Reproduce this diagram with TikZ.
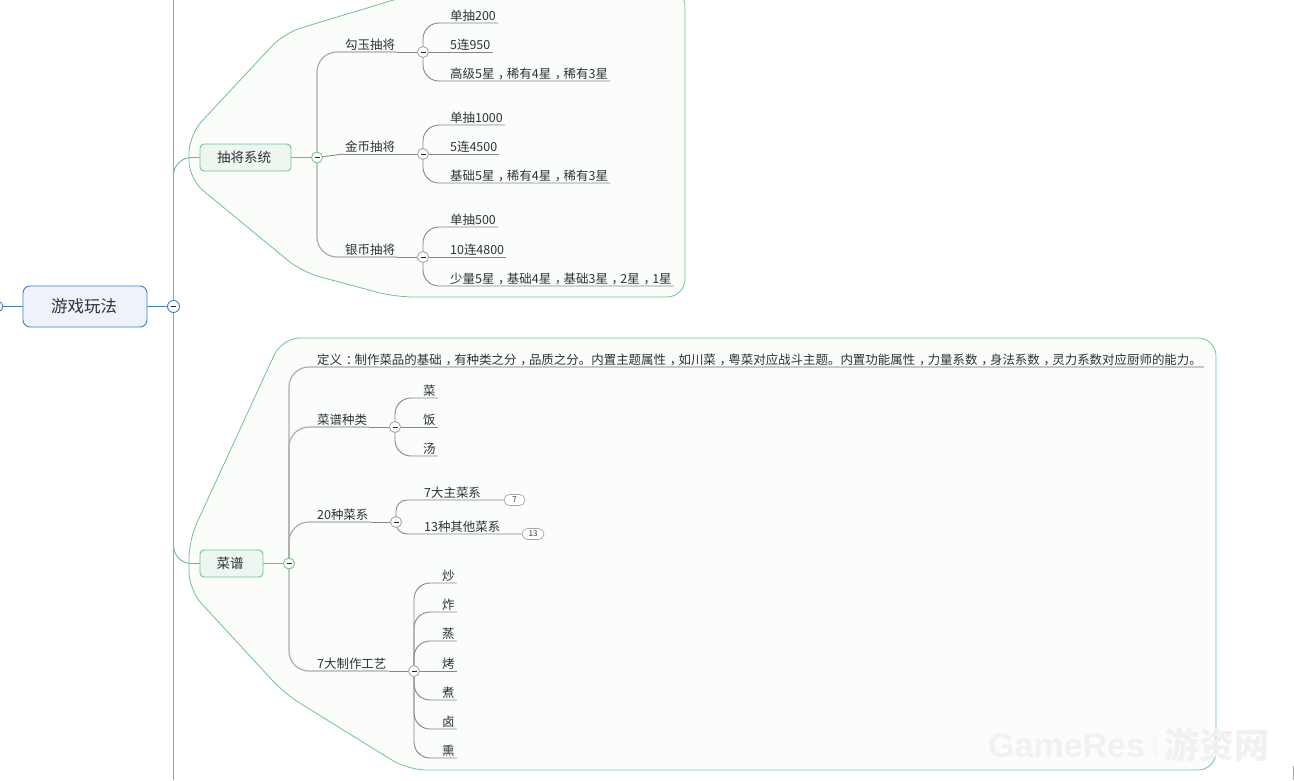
\documentclass[tikz,border=0pt]{standalone}
\usepackage{fontspec}
\setmainfont{Noto Sans CJK SC}
\newfontfamily\latinbold{Liberation Sans}
\usetikzlibrary{backgrounds}
\definecolor{rootblue}{HTML}{3F7FC4}
\definecolor{rootfill}{HTML}{EEF3FB}
\definecolor{topicgreen}{HTML}{72C290}
\definecolor{topicfill}{HTML}{EDF6F0}
\definecolor{groupfill}{HTML}{FBFDFB}
\definecolor{inktext}{HTML}{2C3335}
\newcommand{\foldmark}{\rule{5pt}{1pt}}
\newcommand{\cm}{\makebox[1em][l]{\hspace{.3em}\char"FF0C}}
\newcommand{\cl}{\makebox[1em][l]{\hspace{.3em}\char"FF1A}}
\tikzset{
  group/.style={draw=topicgreen,fill=groupfill,line width=.8pt,rounded corners=18pt},
  rootbox/.style={draw=rootblue,fill=rootfill,rounded corners=7pt,line width=.9pt,
    minimum width=124pt,minimum height=41pt,text=inktext,font=\fontsize{16.5}{18}\selectfont},
  topicbox/.style={draw=topicgreen,fill=topicfill,rounded corners=4pt,line width=.9pt,
    minimum height=27pt,text=inktext,font=\fontsize{13.5}{15}\selectfont},
  item/.style={anchor=south west,inner xsep=2pt,inner ysep=1.5pt,text height=10pt,text depth=1pt,
    text=inktext,font=\fontsize{12.46}{14}\selectfont},
  fold/.style={circle,draw=gray!70,fill=white,minimum size=11pt,inner sep=0pt,line width=.9pt,
    font=\fontsize{9}{9}\selectfont,text=black!85},
  foldgreen/.style={fold,draw=topicgreen},
  foldblue/.style={fold,draw=rootblue,minimum size=12pt},
  pill/.style={draw=gray!70,fill=white,rounded corners=5.5pt,minimum height=11pt,inner sep=0pt,
    line width=.7pt,text=inktext,font=\fontsize{8}{8}\selectfont},
  stem/.style={draw=gray!95,line width=.9pt,rounded corners=16pt},
  stemshort/.style={stem,rounded corners=11pt},
  trunk/.style={stem,draw=gray!65,line width=1.2pt,rounded corners=20pt},
  greenlink/.style={draw=topicgreen!85!gray,line width=.9pt,rounded corners=18pt},
  bluelink/.style={draw=rootblue,line width=1pt},
  stamp/.style={text=gray!11,inner sep=0pt}
}
\begin{document}
\begin{tikzpicture}[x=1pt,y=-1pt]
  \useasboundingbox (0,0) rectangle (1294,780);
  % the two boundaries
  \begin{pgfonlayer}{background}
    \begin{scope}
      \clip (0,0) rectangle (1294,780);
      \draw[group] (500,-32) -- (284,33) -- (189,135) -- (189,179) -- (302,272)
        -- (395,297) -- (685,297) -- (685,-12) -- (440,-12) -- cycle;
      \draw[group] (282,338) -- (189,540) -- (189,590) -- (285,694) -- (408,770)
        -- (1216,770) -- (1216,338) -- cycle;
    \end{scope}
  \end{pgfonlayer}

  \coordinate (top) at (173.5,0);
  \coordinate (bottom) at (173.5,780);
  \node[rootbox] (root) at (85,306.5) {\hspace*{-2pt}游戏玩法};
  \node[foldblue] (f0) at (173.5,306.5) {\foldmark};
  \node[foldblue,minimum size=10pt] (f00) at (-2,306.5) {};

  \node[topicbox,minimum width=91pt] (draw) at (245.5,157.5) {\hspace*{-3pt}抽将系统};
  \node[foldgreen] (f1) at (317,157.5) {\foldmark};
  \node[topicbox,minimum width=63pt] (recipe) at (231.5,563.5) {\hspace*{-3pt}菜谱};
  \node[foldgreen] (f2) at (289,563.5) {\foldmark};

  % draw cards
  \node[item] (d1) at (343,52) {勾玉抽将};
  \node[fold] (fd1) at (423,52) {\foldmark};
  \node[item] (d11) at (448,23) {单抽200};
  \node[item] (d12) at (448,52) {5连950};
  \node[item] (d13) at (448,81) {高级5星\cm 稀有4星\cm 稀有3星};
  \node[item] (d2) at (343,154) {金币抽将};
  \node[fold] (fd2) at (423,154) {\foldmark};
  \node[item] (d21) at (448,125) {单抽1000};
  \node[item] (d22) at (448,154) {5连4500};
  \node[item] (d23) at (448,183) {基础5星\cm 稀有4星\cm 稀有3星};
  \node[item] (d3) at (343,257) {银币抽将};
  \node[fold] (fd3) at (423,257) {\foldmark};
  \node[item] (d31) at (448,227) {单抽500};
  \node[item] (d32) at (448,257) {10连4800};
  \node[item] (d33) at (448,286) {少量5星\cm 基础4星\cm 基础3星\cm 2星\cm 1星};

  % recipes
  \node[item] (r0) at (315,367) {定义\cl 制作菜品的基础\cm 有种类之分\cm 品质之分。内置主题属性\cm 如川菜\cm 粤菜对应战斗主题。内置功能属性\cm 力量系数\cm 身法系数\cm 灵力系数对应厨师的能力。};
  \node[item] (r1) at (315,427) {菜谱种类};
  \node[fold] (fr1) at (395,427) {\foldmark};
  \node[item] (r11) at (421,398) {菜};
  \node[item] (r12) at (421,427) {饭};
  \node[item] (r13) at (421,456) {汤};
  \node[item] (r2) at (315,522) {20种菜系};
  \node[fold] (fr2) at (396,522) {\foldmark};
  \node[item] (r21) at (422,500) {7大主菜系};
  \node[pill,minimum width=21pt] (p1) at (514.5,500) {7};
  \node[item] (r22) at (422,534) {13种其他菜系};
  \node[pill,minimum width=22pt] (p2) at (533,534) {13};
  \node[item] (r3) at (315,671) {7大制作工艺};
  \node[fold] (fr3) at (414,671) {\foldmark};
  \node[item] (r31) at (440,583) {炒};
  \node[item] (r32) at (440,612) {炸};
  \node[item] (r33) at (440,641) {蒸};
  \node[item] (r34) at (440,671) {烤};
  \node[item] (r35) at (440,700) {煮};
  \node[item] (r36) at (440,729) {卤};
  \node[item] (r37) at (440,758) {熏};

  % watermark
  \node[stamp,anchor=west,font={\latinbold\bfseries\fontsize{34}{36}\selectfont}] (w1) at (988,746) {GameRes};
  \node[stamp,rotate=90,font={\latinbold\bfseries\fontsize{9}{9}\selectfont}] (w2) at (1155,746) {.com};
  \node[stamp,anchor=west,font={\bfseries\fontsize{35}{37}\selectfont}] (w3) at (1164,745) {游资网};

  \coordinate (edge1) at (1293,766);
  \coordinate (edge2) at (1293,780);
  \draw[gray!70,line width=1pt] (edge1) to (edge2);

  \begin{pgfonlayer}{background}
    \draw[bluelink] (f00) to (root);
    \draw[bluelink] (root) to (f0);
    \begin{scope}[greenlink]
      \draw (top) to (bottom);
      \draw (f0.center) |- (draw);
      \draw (f0.center) |- (recipe);
      \draw (draw) to (f1);
      \draw (recipe) to (f2);
    \end{scope}
    \begin{scope}[trunk]
      \draw (f1.center) |- (d1.south east);
      \draw (f1.center) |- (d3.south east);
      \draw (f2.center) |- (r0.south east);
      \draw (f2.center) |- (r1.south east);
      \draw (f2.center) |- (r2.south east);
      \draw (f2.center) |- (r3.south east);
    \end{scope}
    \begin{scope}[stem]
      \draw (f1) to (d2.south west);
      \draw (d2.south west) to (d2.south east);
      \draw (d1.south east) to (fd1);
      \draw (d2.south east) to (fd2);
      \draw (d3.south east) to (fd3);
      \draw (r1.south east) to (fr1);
      \draw (r2.south east) to (fr2);
      \draw (r3.south east) to (fr3);
      \draw (fd1.center) |- (d11.south east);
      \draw (fd1.center) to (d12.south east);
      \draw (fd1.center) |- (d13.south east);
      \draw (fd2.center) |- (d21.south east);
      \draw (fd2.center) to (d22.south east);
      \draw (fd2.center) |- (d23.south east);
      \draw (fd3.center) |- (d31.south east);
      \draw (fd3.center) to (d32.south east);
      \draw (fd3.center) |- (d33.south east);
      \draw (fr1.center) |- (r11.south east);
      \draw (fr1.center) to (r12.south east);
      \draw (fr1.center) |- (r13.south east);
      \draw (fr3.center) |- (r31.south east);
      \draw (fr3.center) |- (r32.south east);
      \draw (fr3.center) |- (r33.south east);
      \draw (fr3.center) to (r34.south east);
      \draw (fr3.center) |- (r35.south east);
      \draw (fr3.center) |- (r36.south east);
      \draw (fr3.center) |- (r37.south east);
    \end{scope}
    \begin{scope}[stemshort]
      \draw (fr2.center) |- (p1.west);
      \draw (fr2.center) |- (p2.west);
    \end{scope}
  \end{pgfonlayer}
\end{tikzpicture}
\end{document}
